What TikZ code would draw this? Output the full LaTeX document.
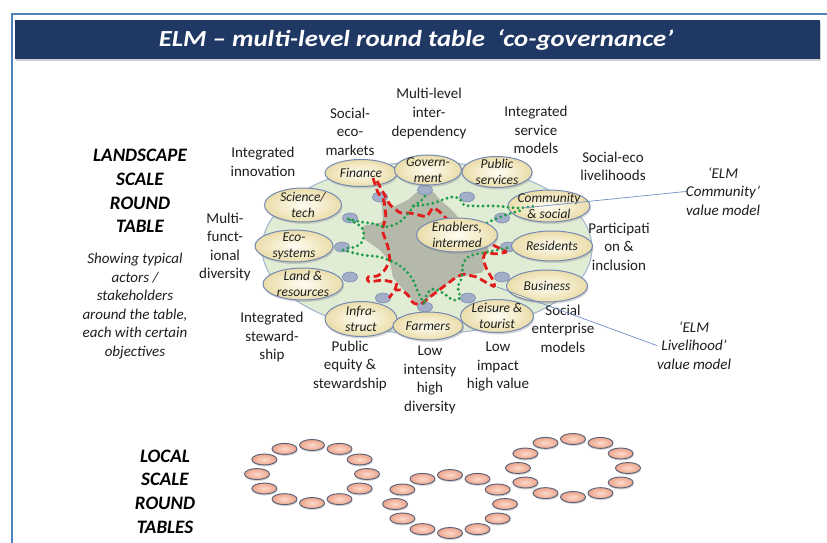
\documentclass[tikz,border=0pt]{standalone}
\usepackage{fontspec}
\setmainfont{Carlito}
\usetikzlibrary{shapes.geometric,shadows}
\definecolor{navy}{HTML}{1F3864}
\definecolor{frameblue}{HTML}{4F81BD}
\definecolor{tablefill}{HTML}{E1ECD5}
\definecolor{tableline}{HTML}{9EB4CF}
\definecolor{grayreg}{HTML}{B4B9AA}
\definecolor{seatfill}{HTML}{A3AFC9}
\definecolor{seatline}{HTML}{7D8DB0}
\definecolor{actorin}{HTML}{FFFDF3}
\definecolor{actorout}{HTML}{EADDAA}
\definecolor{actorline}{HTML}{7489B3}
\definecolor{redl}{HTML}{E21B1B}
\definecolor{greenl}{HTML}{1E9E48}
\definecolor{salin}{HTML}{FCDACC}
\definecolor{salout}{HTML}{EDA48A}
\definecolor{salline}{HTML}{55607A}
\definecolor{textc}{HTML}{1E1E1E}
\definecolor{linkc}{HTML}{6F8FC4}
\tikzset{
  actor/.style 2 args={ellipse, draw=actorline, line width=1pt, inner sep=0pt,
    minimum width=#1pt, minimum height=#2pt, shading=radial,
    inner color=actorin, outer color=actorout,
    drop shadow={opacity=0.3, shadow xshift=1pt, shadow yshift=-2pt}},
  actext/.style={font=\fontsize{13.5}{16}\selectfont\itshape, text=textc, align=center, inner sep=0pt},
  seat/.style={ellipse, draw=seatline, fill=seatfill, line width=0.6pt, minimum width=15pt, minimum height=10pt, inner sep=0pt},
  lab/.style={font=\fontsize{15}{18.5}\selectfont, text=textc, align=center, inner sep=0pt},
  labit/.style={font=\fontsize{15}{18.5}\selectfont\itshape, text=textc, align=center, inner sep=0pt},
  head/.style={font=\fontsize{19}{23.7}\selectfont\bfseries\itshape, text=black, align=center, inner sep=0pt},
  redpath/.style={draw=redl, line width=2.8pt, dash pattern=on 7.5pt off 4pt, rounded corners=1.5pt},
  greenpath/.style={draw=greenl, line width=3.2pt, dash pattern=on 0pt off 5pt, line cap=round},
  link/.style={draw=linkc, line width=0.7pt},
  smallseat/.style={ellipse, draw=salline, line width=0.9pt, minimum width=25pt, minimum height=11pt,
    inner sep=0pt, shading=radial, inner color=salin, outer color=salout,
    drop shadow={opacity=0.35, shadow xshift=0.5pt, shadow yshift=-1.5pt}}
}
\begin{document}
\begin{tikzpicture}[x=1pt,y=-1pt]
\useasboundingbox (0,0) rectangle (827,543);
\fill[white] (0,0) rectangle (827,543);
% frame
\draw[frameblue, line width=1.6pt] (11.7,543) -- (11.7,14) -- (827,14);
% title bar
\node[fill=navy, minimum width=805pt, minimum height=39pt, inner sep=0pt,
  drop shadow={opacity=0.35, shadow xshift=1pt, shadow yshift=-2.5pt}] (bar) at (417.5,39.5) {};
\node[text=white, font=\fontsize{23}{28}\selectfont\bfseries\itshape, inner sep=0pt] (title) at (416,40) {\scalebox{1.165}[1]{ELM – multi-level round table\ \ ‘co-governance’}};

% big round table
\node[ellipse, draw=tableline, line width=1pt, fill=tablefill, minimum width=330pt, minimum height=172pt] (table) at (427,248) {};
% grey central area
\fill[grayreg, rounded corners=3pt] (380,196) -- (393,207) -- (408,200) -- (418,191) -- (433,191) -- (440,200) -- (452,210) -- (462,222) -- (480,240) -- (490,250) -- (483,258) -- (484,272) -- (470,275) -- (455,278) -- (440,289) -- (428,299) -- (420,305) -- (410,298) -- (402,288) -- (393,278) -- (390,262) -- (380,250) -- (364,239) -- (362,226) -- (383,222) -- (382,208) -- cycle;

% seats
\foreach \n/\p in {s1/{(380,197)}, s2/{(425,190)}, s3/{(467,197)}, s4/{(502,218)}, s5/{(350,218)}, s6/{(342,247)}, s7/{(508,247)}, s8/{(350,277)}, s9/{(502,277)}, s10/{(383,298)}, s11/{(425,307)}, s12/{(468,298)}}
  \node[seat] (\n) at \p {};

% actors
\node[actor={72}{27}, label={[actext]center:Finance}] (fin) at (361,173) {};
\node[actor={67}{30}, label={[actext]center:Govern-\\ment}] (gov) at (428,170) {};
\node[actor={70}{31}, label={[actext]center:Public\\services}] (pub) at (497,172) {};
\node[actor={77}{34}, label={[actext]center:Science/\\tech}] (sci) at (303,205) {};
\node[actor={82}{32}, label={[actext]center:Community\\\& social}] (comm) at (549,206) {};
\node[actor={78}{32}, label={[actext]center:Eco-\\systems}] (eco) at (294,246) {};
\node[actor={81}{30}, label={[actext]center:Residents}] (res) at (552,246) {};
\node[actor={80}{32}, label={[actext]center:Land \&\\resources}] (landr) at (303,284) {};
\node[actor={81}{32}, label={[actext]center:Business}] (bus) at (547,286) {};
\node[actor={72}{35}, label={[actext]center:Infra-\\struct}] (infra) at (361,319) {};
\node[actor={70}{28}, label={[actext]center:Farmers}] (farm) at (428,326) {};
\node[actor={73}{33}, label={[actext]center:Leisure \&\\tourist}] (leis) at (497,316) {};

% red dashed links
\draw[redpath] (373,178) -- (378,193) -- (384,200) -- (386,217) -- (382,230) -- (388,247) -- (390,260) -- (385,270) -- (378,276) -- (367,277) -- (368,282) -- (383,280) -- (397,283) -- (395,290) -- (389,298);
\draw[redpath] (377,181) -- (390,205) -- (400,213) -- (410,213) -- (427,217) -- (433,207) -- (440,212) -- (448,220);
\draw[redpath] (493,245) -- (507,252) -- (495,254) -- (485,252) -- (483,260) -- (487,270) -- (493,280) -- (495,287) -- (487,283) -- (477,277) -- (463,274) -- (455,278) -- (443,287) -- (430,297) -- (420,305) -- (413,303) -- (408,295) -- (402,290) -- (395,290);
% green dotted links
\draw[greenpath] plot[smooth, tension=0.6] coordinates {(348,219) (362,222) (375,224) (385,227) (398,223) (407,215) (414,206) (423,199) (427,192)};
\draw[greenpath] plot[smooth, tension=0.6] coordinates {(350,220) (362,228) (363,240) (355,247) (343,248)};
\draw[greenpath] plot[smooth, tension=0.6] coordinates {(343,250) (363,255) (380,257) (395,263) (405,270) (413,280) (418,292) (424,304)};
\draw[greenpath] plot[smooth, tension=0.6] coordinates {(413,206) (430,204) (442,200) (452,197) (460,199) (464,205) (477,206) (497,206) (517,208) (535,206)};
\draw[greenpath] plot[smooth, tension=0.6] coordinates {(487,223) (500,217) (512,213) (523,210)};
\draw[greenpath] plot[smooth, tension=0.6] coordinates {(507,248) (487,252) (470,256) (463,264) (462,277) (458,287) (460,298) (453,300) (443,293) (433,289) (427,294) (424,304)};

% central actor on top
\node[actor={81}{34}, label={[actext]center:Enablers,\\intermed}] (enab) at (457,235) {};

% outer labels
\node[lab] (socm) at (350,131.5) {Social-\\eco-\\markets};
\node[lab] (mli) at (429,113.5) {Multi-level\\inter-\\dependency};
\node[lab] (isr) at (536,130) {Integrated\\service\\models};
\node[lab] (sel) at (613,166.5) {Social-eco\\livelihoods};
\node[labit] (elmcom) at (723,191.5) {‘ELM\\Community’\\value model};
\node[lab] (par) at (619,246.5) {Participati\\on \&\\inclusion};
\node[lab] (sem) at (563,328.5) {Social\\enterprise\\models};
\node[labit] (elmliv) at (694,345.5) {‘ELM\\Livelihood’\\value model};
\node[lab] (lih) at (498,366.5) {Low\\impact\\high value};
\node[lab] (lihd) at (430,380) {Low\\intensity\\high\\diversity};
\node[lab] (pes) at (350,365.5) {Public\\equity \&\\stewardship};
\node[lab] (ist) at (272,337) {Integrated\\steward-\\ship};
\node[lab] (mfd) at (225,247) {Multi-\\funct-\\ional\\diversity};
\node[lab] (iin) at (263,162) {Integrated\\innovation};
\node[head] (land) at (140,191) {LANDSCAPE\\SCALE\\ROUND\\TABLE};
\node[labit] (show) at (135,306) {Showing typical\\actors /\\stakeholders\\around the table,\\each with certain\\objectives};
\node[head] (local) at (165,491.5) {LOCAL\\SCALE\\ROUND\\TABLES};

% thin value-model links
\coordinate (l1s) at (523,208);
\coordinate (l2s) at (497,287);
\draw[link] (l1s) -- (elmcom.west);
\draw[link] (l2s) -- (elmliv.west);

% local scale round tables
\foreach \t/\cx/\cy in {a/312/474, b/450/504, c/573/468}{
  \foreach \k in {0,...,11}{
    \node[smallseat] (\t\k) at ({\cx+55*cos(30*\k)},{\cy+29*sin(30*\k)}) {};
  }
}
\end{tikzpicture}
\end{document}
